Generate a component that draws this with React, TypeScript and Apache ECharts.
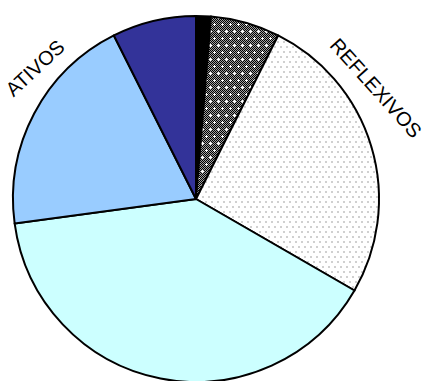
import React, { useEffect, useRef } from "react";
import * as echarts from "echarts";

const sliceNames = ["Preto", "Cinza", "REFLEXIVOS", "Ciano", "ATIVOS", "Azul"];
const sliceValues = [1.3, 6.1, 25.9, 39.5, 19.7, 7.4];
const labelTexts = ["ATIVOS", "REFLEXIVOS"];

function makeDarkPattern(): HTMLCanvasElement {
  const c = document.createElement("canvas");
  c.width = 8;
  c.height = 14;
  const ctx = c.getContext("2d")!;
  for (let y = 0; y < 14; y++) {
    for (let x = 0; x < 8; x++) {
      ctx.fillStyle = (x + y) % 2 === 0 ? "#000000" : "#a0a0a0";
      ctx.fillRect(x, y, 1, 1);
    }
  }
  ctx.fillStyle = "#ffffff";
  const dots = [
    [2, 3],
    [6, 10],
  ];
  for (const [dx, dy] of dots) {
    ctx.fillRect(dx, dy, 1, 1);
    ctx.fillRect(dx - 1, dy, 3, 1);
    ctx.fillRect(dx, dy - 1, 1, 3);
  }
  return c;
}

function makeLightPattern(): HTMLCanvasElement {
  const c = document.createElement("canvas");
  c.width = 6;
  c.height = 10;
  const ctx = c.getContext("2d")!;
  ctx.fillStyle = "#ffffff";
  ctx.fillRect(0, 0, 6, 10);
  ctx.fillStyle = "#d0d0d0";
  ctx.fillRect(1, 1, 2, 2);
  ctx.fillRect(4, 6, 2, 2);
  return c;
}

export default function App() {
  const ref = useRef<HTMLDivElement>(null);
  useEffect(() => {
    document.body.style.margin = "0";
    if (!ref.current) return;
    const chart = echarts.init(ref.current, null, { renderer: "svg" });
    const colors: any[] = [
      "#000000",
      { image: makeDarkPattern(), repeat: "repeat" },
      { image: makeLightPattern(), repeat: "repeat" },
      "#ccffff",
      "#99ccff",
      "#333399",
    ];
    chart.setOption({
      animation: false,
      backgroundColor: "#ffffff",
      series: [
        {
          type: "pie",
          center: [196, 199],
          radius: 183,
          startAngle: 90,
          clockwise: true,
          label: { show: false },
          labelLine: { show: false },
          emphasis: { disabled: true },
          itemStyle: { borderColor: "#000000", borderWidth: 2 },
          data: sliceNames.map((n, i) => ({
            name: n,
            value: sliceValues[i],
            itemStyle: { color: colors[i] },
          })),
        },
      ],
      graphic: [
        {
          type: "text",
          x: 35,
          y: 68,
          rotation: (43 * Math.PI) / 180,
          style: {
            text: labelTexts[0],
            fill: "#000",
            font: "20px 'Liberation Sans', Arial, sans-serif",
            align: "center",
            verticalAlign: "middle",
          },
        },
        {
          type: "text",
          x: 376,
          y: 88,
          rotation: (-48 * Math.PI) / 180,
          style: {
            text: labelTexts[1],
            fill: "#000",
            font: "20px 'Liberation Sans', Arial, sans-serif",
            align: "center",
            verticalAlign: "middle",
          },
        },
      ],
    });
    return () => chart.dispose();
  }, []);
  return <div ref={ref} style={{ width: 427, height: 381 }} />;
}
